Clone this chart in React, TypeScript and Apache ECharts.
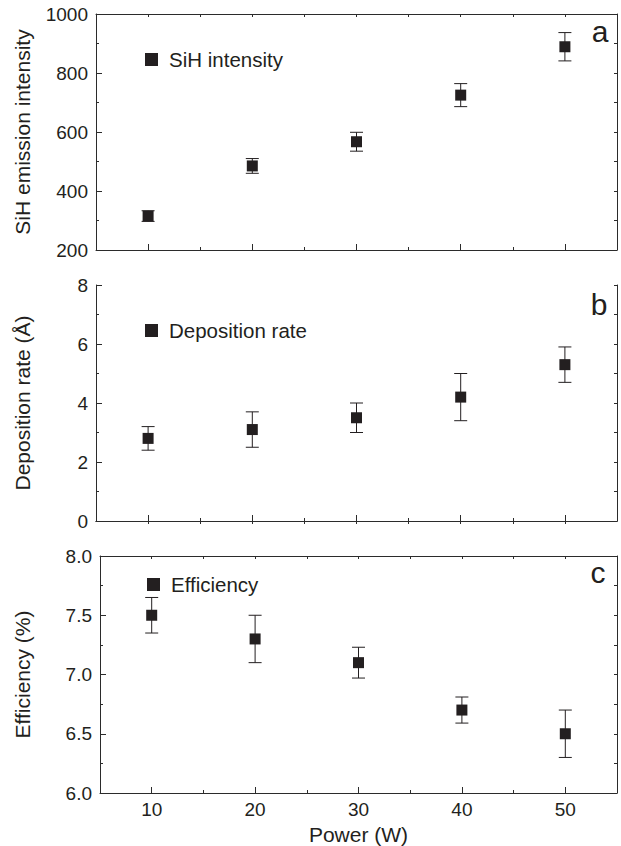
import React, { useEffect, useRef } from "react";
import * as echarts from "echarts";

const powers = [10, 20, 30, 40, 50];
const sihIntensity = [315, 485, 567, 725, 889];
const sihError = [18, 25, 32, 39, 48];
const depositionRate = [2.8, 3.1, 3.5, 4.2, 5.3];
const depositionError = [0.4, 0.6, 0.5, 0.8, 0.6];
const efficiency = [7.5, 7.3, 7.1, 6.7, 6.5];
const efficiencyError = [0.15, 0.2, 0.13, 0.11, 0.2];

const xMajorTicks = [10, 20, 30, 40, 50];
const xMinorTicks = [15, 25, 35, 45];
const xAllTicks = [10, 15, 20, 25, 30, 35, 40, 45, 50];

const yMajorA = [200, 400, 600, 800, 1000];
const yMinorA = [300, 500, 700, 900];
const yMajorB = [0, 2, 4, 6, 8];
const yMinorB = [1, 3, 5, 7];
const yMajorC = [6.0, 6.5, 7.0, 7.5, 8.0];
const yMinorC = [6.25, 6.75, 7.25, 7.75];

const FONT = "Liberation Sans, Arial, sans-serif";
const TEXT = "#231f20";
const AXIS = "#2b2b2b";

export default function App() {
  const ref = useRef<HTMLDivElement>(null);
  useEffect(() => {
    if (!ref.current) return;
    const chart = echarts.init(ref.current, null, { renderer: "svg" });

    const panels = [
      {
        grid: { left: 96, right: 4, top: 14, height: 236 },
        ymin: 200, ymax: 1000, major: yMajorA, minor: yMinorA,
        name: "SiH emission intensity", series: "SiH intensity",
        values: sihIntensity, errors: sihError, fmt: (v: number) => String(v),
        nameGap: 63, showX: false, legendTop: 44, legendLeft: 140,
      },
      {
        grid: { left: 96, right: 4, top: 285, height: 236 },
        ymin: 0, ymax: 8, major: yMajorB, minor: yMinorB,
        name: "Deposition rate (Å)", series: "Deposition rate",
        values: depositionRate, errors: depositionError, fmt: (v: number) => String(v),
        nameGap: 63, showX: false, legendTop: 315, legendLeft: 140,
      },
      {
        grid: { left: 100, right: 4, top: 556, height: 237 },
        ymin: 6, ymax: 8, major: yMajorC, minor: yMinorC,
        name: "Efficiency (%)", series: "Efficiency",
        values: efficiency, errors: efficiencyError, fmt: (v: number) => v.toFixed(1),
        nameGap: 67, showX: true, legendTop: 569, legendLeft: 142,
      },
    ];

    const grids: any[] = [];
    const xAxes: any[] = [];
    const yAxes: any[] = [];
    const series: any[] = [];
    const legends: any[] = [];

    panels.forEach((p, i) => {
      grids.push({ ...p.grid, containLabel: false, outerBoundsMode: "none" });
      const xBase = { type: "value", gridIndex: i, min: 5, max: 55, splitLine: { show: false } };
      const yBase = { type: "value", gridIndex: i, min: p.ymin, max: p.ymax, splitLine: { show: false } };
      const mainX = xAxes.length;
      xAxes.push({
        ...xBase,
        position: "bottom",
        axisLine: { show: true, lineStyle: { color: AXIS, width: 1 } },
        axisTick: { show: true, inside: true, length: 6, customValues: xMajorTicks, lineStyle: { color: AXIS } },
        axisLabel: {
          show: p.showX, customValues: xMajorTicks, margin: 7,
          fontSize: 19, color: TEXT, fontFamily: FONT,
        },
        name: p.showX ? "Power (W)" : "",
        nameLocation: "middle",
        nameGap: 31,
        nameTextStyle: { fontSize: 21, color: TEXT, fontFamily: FONT },
      });
      xAxes.push({
        ...xBase,
        position: "bottom",
        axisLine: { show: false },
        axisTick: { show: true, inside: true, length: 3, customValues: xMinorTicks, lineStyle: { color: AXIS } },
        axisLabel: { show: false },
      });
      xAxes.push({
        ...xBase,
        position: "top",
        axisLine: { show: true, lineStyle: { color: AXIS, width: 1 } },
        axisTick: { show: true, inside: true, length: 3, customValues: xAllTicks, lineStyle: { color: AXIS } },
        axisLabel: { show: false },
      });
      const mainY = yAxes.length;
      yAxes.push({
        ...yBase,
        position: "left",
        axisLine: { show: true, lineStyle: { color: AXIS, width: 1 } },
        axisTick: { show: true, inside: true, length: 6, customValues: p.major, lineStyle: { color: AXIS } },
        axisLabel: {
          show: true, customValues: p.major, margin: 8, formatter: p.fmt,
          fontSize: 19, color: TEXT, fontFamily: FONT,
        },
        name: p.name,
        nameLocation: "middle",
        nameRotate: 90,
        nameGap: p.nameGap,
        nameTextStyle: { fontSize: 21, color: TEXT, fontFamily: FONT },
      });
      yAxes.push({
        ...yBase,
        position: "left",
        axisLine: { show: false },
        axisTick: { show: true, inside: true, length: 3, customValues: p.minor, lineStyle: { color: AXIS } },
        axisLabel: { show: false },
      });
      yAxes.push({
        ...yBase,
        position: "right",
        axisLine: { show: true, lineStyle: { color: AXIS, width: 1 } },
        axisTick: { show: true, inside: true, length: 3, customValues: [...p.major, ...p.minor].sort((a, b) => a - b), lineStyle: { color: AXIS } },
        axisLabel: { show: false },
      });

      series.push({
        type: "custom",
        name: p.series + " error",
        xAxisIndex: mainX,
        yAxisIndex: mainY,
        z: 1,
        encode: { x: 0, y: [1, 2] },
        data: powers.map((x, k) => [x, p.values[k] - p.errors[k], p.values[k] + p.errors[k]]),
        renderItem: (params: any, api: any) => {
          const top = api.coord([api.value(0), api.value(2)]);
          const bot = api.coord([api.value(0), api.value(1)]);
          const hw = 6.5;
          const style = { stroke: "#231f20", lineWidth: 1, fill: null };
          return {
            type: "group",
            children: [
              { type: "line", shape: { x1: top[0], y1: top[1], x2: bot[0], y2: bot[1] }, style },
              { type: "line", shape: { x1: top[0] - hw, y1: top[1], x2: top[0] + hw, y2: top[1] }, style },
              { type: "line", shape: { x1: bot[0] - hw, y1: bot[1], x2: bot[0] + hw, y2: bot[1] }, style },
            ],
          };
        },
      });
      series.push({
        type: "scatter",
        name: p.series,
        xAxisIndex: mainX,
        yAxisIndex: mainY,
        z: 3,
        symbol: "rect",
        symbolSize: 11,
        itemStyle: { color: "#231f20", opacity: 1 },
        data: powers.map((x, k) => [x, p.values[k]]),
      });
      legends.push({
        data: [{ name: p.series, icon: "rect", itemStyle: { color: "#231f20", opacity: 1 } }],
        left: p.legendLeft,
        top: p.legendTop,
        itemWidth: 13,
        itemHeight: 13,
        selectedMode: false,
        textStyle: { fontSize: 20.5, color: TEXT, fontFamily: FONT, padding: [0, 0, 0, 6] },
      });
    });

    const letters = [
      { t: "a", x: 600, y: 31 },
      { t: "b", x: 599, y: 304 },
      { t: "c", x: 598, y: 572 },
    ];

    chart.setOption({
      animation: false,
      backgroundColor: "#fff",
      grid: grids,
      xAxis: xAxes,
      yAxis: yAxes,
      series,
      legend: legends,
      graphic: letters.map((l) => ({
        type: "text",
        x: l.x,
        y: l.y,
        style: {
          text: l.t, fontSize: 30, fill: TEXT, fontFamily: FONT,
          textAlign: "center", textVerticalAlign: "middle",
        },
      })),
    });
    return () => chart.dispose();
  }, []);
  return (
    <div
      ref={ref}
      style={{ position: "absolute", left: 0, top: 0, width: 621, height: 846 }}
    />
  );
}
